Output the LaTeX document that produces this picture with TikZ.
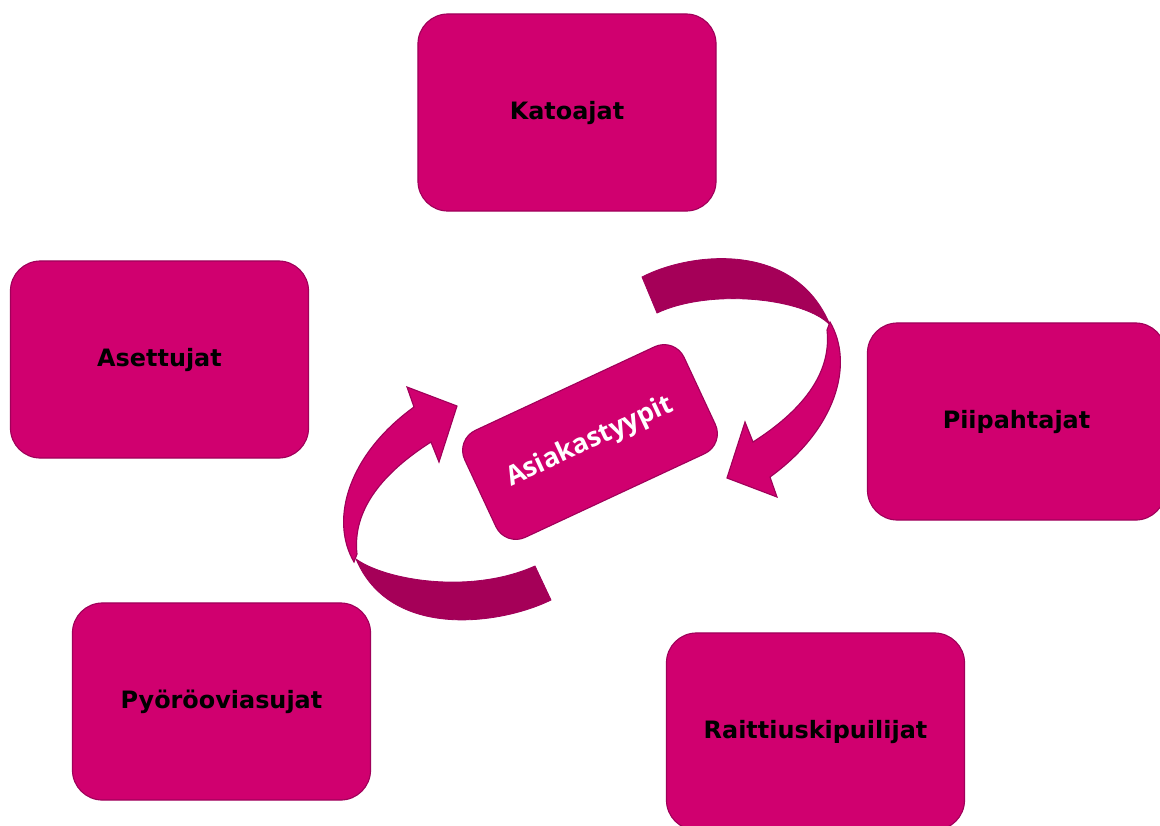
\documentclass[tikz,border=0pt]{standalone}
\usepackage{fontspec}
\setmainfont{DejaVu Sans}
\newfontfamily\hubfont{Open Sans}
\definecolor{boxfill}{RGB}{208,0,111}
\definecolor{boxedge}{RGB}{160,0,90}
\definecolor{ribbonback}{RGB}{165,0,88}
\tikzset{
  typebox/.style={draw=boxedge, fill=boxfill, line width=0.8pt, rounded corners=0.75cm,
    minimum width=7.45cm, minimum height=4.925cm, font=\fontsize{17}{20}\selectfont\bfseries},
  hubbox/.style={draw=boxedge, fill=boxfill, line width=0.8pt, rounded corners=0.55cm,
    minimum width=6.05cm, minimum height=2.95cm, text=white, font=\hubfont\fontsize{19}{22}\selectfont\bfseries},
  front/.style={fill=boxfill, draw=boxedge, line width=0.8pt},
  back/.style={fill=ribbonback, draw=boxedge, line width=0.6pt}
}
\begin{document}
\begin{tikzpicture}[x=0.025cm, y=-0.025cm]
  \useasboundingbox (0,0) rectangle (1160,825);
  \draw
    (567,112.5) node[typebox] (katoajat){Katoajat}
    (159.5,359.5) node[typebox] (asettujat){Asettujat}
    (1016.5,421.5) node[typebox] (piipahtajat){Piipahtajat}
    (221.5,701.5) node[typebox] (pyoroovi){Pyöröoviasujat}
    (815.5,731.5) node[typebox] (raittius){Raittiuskipuilijat};
  \node[hubbox, rotate=25] (hub) at (590,442) {Asiakastyypit};
  % upper swirl
  \begin{scope}
    \path[back] (642,277) .. controls (690,252) and (795,240) .. (830,325)
      .. controls (805,298) and (710,288) .. (657,313) -- cycle;
    \path[front] (830,322) .. controls (855,365) and (835,430) .. (770,477)
      -- (777,497) -- (727,478) -- (745,422) -- (753,442)
      .. controls (800,412) and (832,375) .. (827,330) -- cycle;
  \end{scope}
  % lower swirl
  \begin{scope}
    \path[back] (551,600) .. controls (500,625) and (390,640) .. (356,559)
      .. controls (385,580) and (470,595) .. (535,566) -- cycle;
    \path[front] (354,562) .. controls (329,519) and (349,454) .. (414,407)
      -- (407,387) -- (457,406) -- (439,462) -- (431,442)
      .. controls (384,472) and (352,509) .. (357,554) -- cycle;
  \end{scope}
\end{tikzpicture}
\end{document}
